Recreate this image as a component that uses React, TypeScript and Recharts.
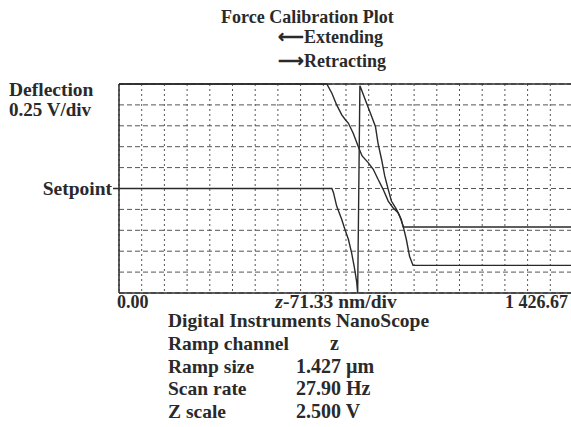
import React from "react";
import {
  LineChart,
  Line,
  XAxis,
  YAxis,
  CartesianGrid,
  ReferenceLine,
} from "recharts";

// z position (nm) and deflection (V, setpoint = 0)
const extendingZ = [0, 653, 669, 684, 700, 712, 721, 736, 752, 764, 783, 799, 814, 830, 846, 861, 877, 887, 893, 1426.67];
const extendingDefl = [1.25, 1.25, 1.14, 1.0, 0.88, 0.82, 0.78, 0.66, 0.5, 0.39, 0.31, 0.23, 0.11, -0.01, -0.15, -0.23, -0.29, -0.37, -0.46, -0.46];

const retractingZ = [0, 669, 674, 684, 700, 710, 721, 731, 739, 747, 750, 757, 762, 778, 794, 806, 814, 825, 835, 846, 856, 872, 882, 893, 903, 913, 924, 1426.67];
const retractingDefl = [0, 0, -0.05, -0.21, -0.37, -0.49, -0.61, -0.77, -0.93, -1.12, -1.25, 1.23, 1.18, 1.02, 0.86, 0.74, 0.54, 0.35, 0.15, -0.01, -0.15, -0.25, -0.33, -0.45, -0.61, -0.81, -0.92, -0.92];

const zDiv = 71.333;
const zMax = 1426.67;
const zTicks = Array.from({ length: 21 }, (_, i) => i * zDiv);
const deflTicks = [-1.25, -1, -0.75, -0.5, -0.25, 0, 0.25, 0.5, 0.75, 1, 1.25];

const infoLabels = ["Ramp channel", "Ramp size", "Scan rate", "Z scale"];
const infoValues = ["z", "1.427 \u00b5m", "27.90 Hz", "2.500 V"];

const extending = extendingZ.map((z, i) => ({ z, defl: extendingDefl[i] }));
const retracting = retractingZ.map((z, i) => ({ z, defl: retractingDefl[i] }));

const serif = "'Liberation Serif', 'Times New Roman', serif";
const ink = "#2a2a2a";

const EmptyTick = () => <g />;

const SetpointTick = (props: any) => {
  const { x, y, payload } = props;
  if (payload.value !== 0) return <g />;
  return (
    <g>
      <line x1={x - 6} x2={x} y1={y} y2={y} stroke={ink} strokeWidth={1.5} />
      <text x={x - 7} y={y} dy="0.33em" textAnchor="end" fontFamily={serif} fontWeight="bold" fontSize={19.5} fill={ink}>
        Setpoint
      </text>
    </g>
  );
};

export default function App() {
  const t = (size: number) => ({ fontFamily: serif, fontWeight: "bold" as const, fontSize: size, fill: ink });
  return (
    <div style={{ position: "absolute", left: 0, top: 0, width: 571, height: 427, overflow: "hidden", background: "#fff" }}>
      <LineChart width={590} height={427} margin={{ top: 84, right: 17, bottom: 134, left: 0 }}>
        <CartesianGrid horizontal={true} vertical={false} stroke="#555" strokeDasharray="5 3" />
        <CartesianGrid horizontal={false} vertical={true} stroke="#555" strokeDasharray="2 3" />
        <XAxis
          type="number"
          dataKey="z"
          domain={[0, zMax]}
          ticks={zTicks}
          tick={<EmptyTick />}
          tickLine={false}
          axisLine={false}
          height={0}
          interval={0}
          allowDuplicatedCategory={false}
        />
        <YAxis
          type="number"
          domain={[-1.25, 1.25]}
          ticks={deflTicks}
          width={119}
          axisLine={false}
          tickLine={false}
          tickSize={0}
          tickMargin={0}
          tick={<SetpointTick />}
          interval={0}
        />
        <ReferenceLine x={0} stroke={ink} strokeWidth={1.5} />
        <ReferenceLine x={zMax} stroke={ink} strokeWidth={1.5} />
        <ReferenceLine y={1.25} stroke={ink} strokeWidth={1.5} />
        <ReferenceLine y={-1.25} stroke={ink} strokeWidth={1.5} />
        <Line data={extending} dataKey="defl" type="linear" stroke={ink} strokeWidth={1.4} dot={false} isAnimationActive={false} />
        <Line data={retracting} dataKey="defl" type="linear" stroke={ink} strokeWidth={1.4} dot={false} isAnimationActive={false} />
      </LineChart>
      <svg width={571} height={427} style={{ position: "absolute", left: 0, top: 0, pointerEvents: "none" }}>
        <text x={221} y={23} {...t(18)}>Force Calibration Plot</text>
        <text x={278} y={43} {...t(18)}>{"\u27f5Extending"}</text>
        <text x={278} y={67} {...t(18)}>{"\u27f6Retracting"}</text>
        <text x={9} y={96} {...t(19.5)}>Deflection</text>
        <text x={9} y={116} {...t(19)}>0.25 V/div</text>
        <text x={117} y={308} {...t(18)}>0.00</text>
        <text x={336} y={308} textAnchor="middle" {...t(19.5)}>
          <tspan fontStyle="italic">z</tspan>-71.33 nm/div
        </text>
        <text x={568} y={308} textAnchor="end" {...t(18)}>1 426.67</text>
        <text x={168} y={327} {...t(19.5)}>Digital Instruments NanoScope</text>
        {infoLabels.map((label, i) => (
          <text key={label} x={168} y={350 + i * 22.7} {...t(19.5)}>{label}</text>
        ))}
        {infoValues.map((v, i) => (
          <text key={v} x={i === 0 ? 330 : 296} y={350 + i * 22.7} {...t(20)}>{v}</text>
        ))}
      </svg>
    </div>
  );
}
